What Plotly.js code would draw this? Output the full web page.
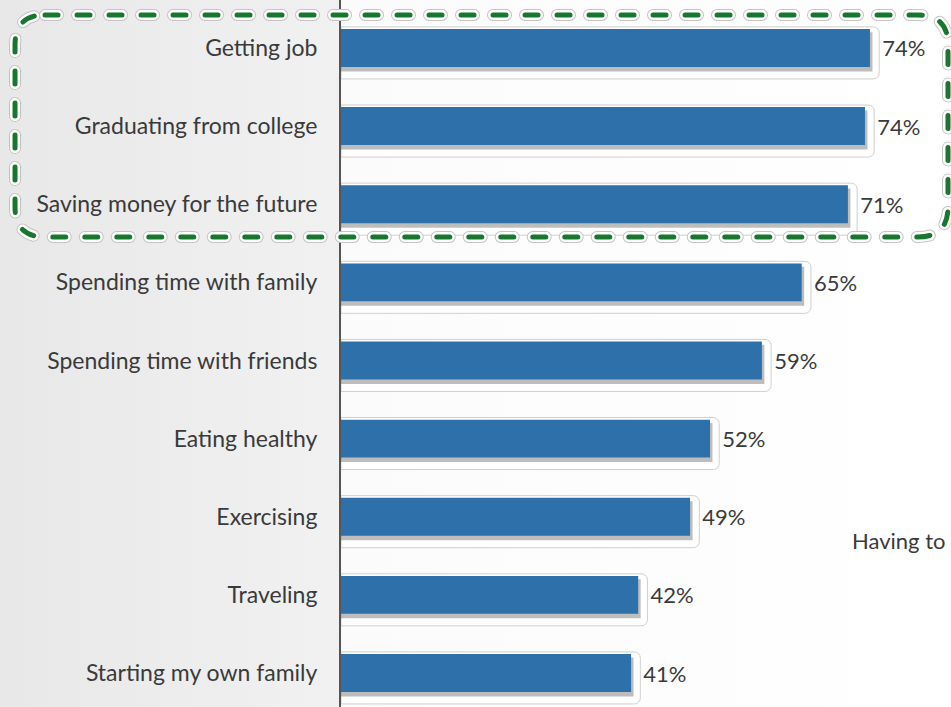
<!DOCTYPE html>
<html>
<head>
<meta charset="utf-8">
<script src="https://cdn.plot.ly/plotly-3.0.1.min.js"></script>
<style>
  html, body { margin:0; padding:0; width:951px; height:707px; overflow:hidden; }
  body { background: linear-gradient(to right, #e8e8e8 0px, #f1f1f1 340px, #fbfbfb 342px, #ffffff 951px); }
  #chart { width:951px; height:707px; }
</style>
</head>
<body>
<div id="chart"></div>
<script>
const categories = [
  "Getting job",
  "Graduating from college",
  "Saving money for the future",
  "Spending time with family",
  "Spending time with friends",
  "Eating healthy",
  "Exercising",
  "Traveling",
  "Starting my own family"
];
const values = [74.4, 73.7, 71.3, 64.8, 59.2, 51.9, 49.1, 41.8, 40.8];
const labels = ["74%", "74%", "71%", "65%", "59%", "52%", "49%", "42%", "41%"];

const FONT = 'Lato, "Open Sans", sans-serif';
const glowPad = 1.3;
const glow = {
  type: 'bar', orientation: 'h', y: categories,
  x: values.map(v => v + glowPad),
  width: 0.666, offset: -0.27,
  marker: { color: '#ffffff', line: { color: '#cfcfcf', width: 1 }, cornerradius: 6 },
  hoverinfo: 'skip', showlegend: false
};
const shadow = {
  type: 'bar', orientation: 'h', y: categories,
  x: values.map(v => v + 0.35),
  width: 0.5, offset: -0.2,
  marker: { color: 'rgba(90,90,90,0.4)', line: { width: 0 } },
  hoverinfo: 'skip', showlegend: false
};
const main = {
  type: 'bar', orientation: 'h', y: categories, x: values,
  width: 0.486, offset: -0.243,
  marker: { color: '#2e70aa', line: { width: 0 } },
  showlegend: false
};
const labelTrace = {
  type: 'bar', orientation: 'h', y: categories,
  x: values.map(v => v + glowPad),
  width: 0.486, offset: -0.243,
  marker: { color: 'rgba(0,0,0,0)', line: { width: 0 } },
  text: labels, textposition: 'outside', cliponaxis: false,
  textfont: { family: FONT, size: 22, color: '#3a3a3a' },
  hoverinfo: 'skip', showlegend: false
};

// dashed rounded frame (paper coords)
const x0 = -0.5344, x1 = 0.9951, yb = 0.6648, yt = 0.9788, rx = 0.0492, ry = 0.0424;
const framePath = `M ${x0+rx},${yt} L ${x1-rx},${yt} Q ${x1},${yt} ${x1},${yt-ry} L ${x1},${yb+ry} Q ${x1},${yb} ${x1-rx},${yb} L ${x0+rx},${yb} Q ${x0},${yb} ${x0},${yb+ry} L ${x0},${yt-ry} Q ${x0},${yt} ${x0+rx},${yt} Z`;
const dash = '13px,19px';
const shapes = [
  { type: 'path', xref: 'paper', yref: 'paper', path: framePath, layer: 'above', line: { color: '#c4c4c4', width: 12, dash: dash } },
  { type: 'path', xref: 'paper', yref: 'paper', path: framePath, layer: 'above', line: { color: '#ffffff', width: 10, dash: dash } },
  { type: 'path', xref: 'paper', yref: 'paper', path: framePath, layer: 'above', line: { color: '#17772f', width: 5, dash: dash } }
];

const layout = {
  width: 951, height: 707,
  margin: { l: 341, r: 0, t: 0, b: 0, pad: 0 },
  paper_bgcolor: 'rgba(0,0,0,0)', plot_bgcolor: 'rgba(0,0,0,0)',
  barmode: 'overlay',
  xaxis: { range: [0, 85.8], visible: false, fixedrange: true },
  yaxis: {
    type: 'category', categoryorder: 'array', categoryarray: categories,
    range: [8.435, -0.614], showline: true, linecolor: '#555555', linewidth: 2,
    showgrid: false, zeroline: false, ticks: '', ticklabelstandoff: 17, automargin: false,
    tickfont: { family: FONT, size: 23, color: '#3a3a3a' }
  },
  shapes: shapes,
  annotations: [{
    xref: 'paper', yref: 'paper', x: (850-341)/610, y: 1 - 540/707,
    xanchor: 'left', yanchor: 'middle', showarrow: false,
    text: 'Having to', font: { family: FONT, size: 22, color: '#3a3a3a' }
  }]
};

Plotly.newPlot('chart', [glow, shadow, main, labelTrace], layout, { staticPlot: true }).then(() => {
  document.querySelectorAll('.shapelayer path').forEach(p => { p.style.strokeLinecap = 'round'; });
});
</script>
</body>
</html>
